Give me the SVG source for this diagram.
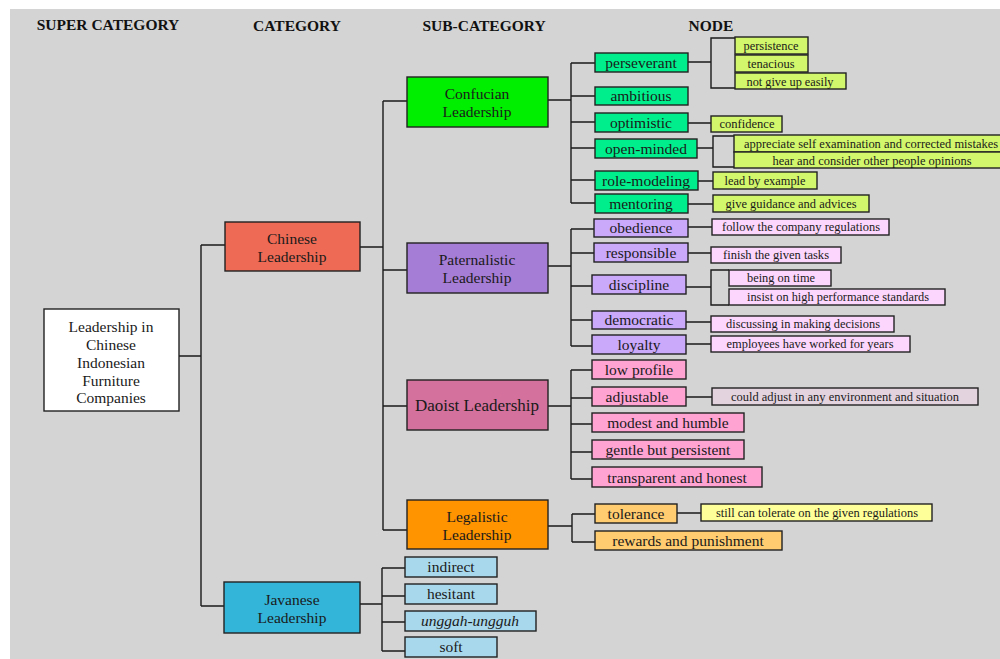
<svg xmlns="http://www.w3.org/2000/svg" width="1000" height="659" viewBox="0 0 1000 659">
<style>
text{font-family:"Liberation Serif","Times New Roman",serif;fill:#1a1a1a;text-anchor:middle}
.h{font-weight:bold;font-size:15.5px;fill:#111}
.m{font-size:15.5px}
.n{font-size:15.5px}
.l{font-size:12px}
rect{stroke:#222;stroke-width:1.4}
.con path{fill:none;stroke:#1a1a1a;stroke-width:1.4}
.cf{fill:#00ef8c}.cl{fill:#d3f76c}
.pf{fill:#caa8fa}.pl{fill:#fcd6fc}
.df{fill:#ffa3d3}.dl{fill:#e3d3df}
.lf{fill:#ffcc70}.ll{fill:#ffff99}
.jf{fill:#a8d8ec}
</style>
<rect x="10" y="9" width="990" height="650" fill="#d4d4d4" style="stroke:none"/>
<g id="headers">
<text class="h" x="108" y="30">SUPER CATEGORY</text>
<text class="h" x="297" y="31">CATEGORY</text>
<text class="h" x="484" y="31">SUB-CATEGORY</text>
<text class="h" x="711" y="31">NODE</text>
</g>
<g class="con" id="connectors">
<path d="M179 356H201M201 245V606M201 245H225M201 606H224"/>
<path d="M360 247H383M383 101V530M383 101H407M383 270H407M383 406H407M383 530H407"/>
<path d="M360 604H382M382 568V651M382 568H405M382 596H405M382 622H405M382 651H405"/>
<path d="M548 100H571M571 63V203M571 63H595M571 96H595M571 122H595M571 148H595M571 180H595M571 203H595"/>
<path d="M548 266H571M571 229V346M571 229H594M571 253H594M571 286H592M571 320H592M571 346H592"/>
<path d="M548 406H571M571 370V479M571 370H592M571 398H592M571 424H592M571 452H592M571 479H592"/>
<path d="M548 526H572M572 514V542M572 514H595M572 542H595"/>
<path d="M688 62H711M735 38H711V88H735M688 123H711M697 148H713M734 136H713V167H734M698 181H713M688 204H713"/>
<path d="M688 227H712M688 253H711M686 287H711M729 270H711V305H729M686 322H711M686 344H711"/>
<path d="M686 397H712M677 513H701"/>
</g>
<g id="root"><rect x="44" y="309" width="135" height="102" fill="#fff"/>
<text class="m" x="111" y="332">Leadership in</text><text class="m" x="111" y="350">Chinese</text><text class="m" x="111" y="368">Indonesian</text><text class="m" x="111" y="386">Furniture</text><text class="m" x="111" y="403">Companies</text></g>
<g id="chinese"><rect x="225" y="222" width="135" height="49" fill="#ee6a55"/>
<text class="m" x="292" y="244">Chinese</text><text class="m" x="292" y="262">Leadership</text></g>
<g id="javanese"><rect x="224" y="582" width="136" height="51" fill="#33b5d9"/>
<text class="m" x="292" y="605">Javanese</text><text class="m" x="292" y="623">Leadership</text></g>
<g id="confucian"><rect x="407" y="77" width="141" height="50" fill="#00ee00"/>
<text class="m" x="477" y="99">Confucian</text><text class="m" x="477" y="117">Leadership</text></g>
<g id="paternalistic"><rect x="407" y="243" width="141" height="50" fill="#a67dd6"/>
<text class="m" x="477" y="265">Paternalistic</text><text class="m" x="477" y="283">Leadership</text></g>
<g id="daoist"><rect x="407" y="380" width="141" height="50" fill="#d4719c"/>
<text x="477" y="411" style="font-size:17px">Daoist Leadership</text></g>
<g id="legalistic"><rect x="407" y="500" width="141" height="49" fill="#ff9300"/>
<text class="m" x="477" y="522">Legalistic</text><text class="m" x="477" y="540">Leadership</text></g>

<g id="perseverant"><rect class="cf" x="595" y="53" width="93" height="19"/><text class="n" x="641" y="68">perseverant</text></g>
<g id="ambitious"><rect class="cf" x="595" y="87" width="93" height="18"/><text class="n" x="641" y="101">ambitious</text></g>
<g id="optimistic"><rect class="cf" x="595" y="113" width="93" height="19"/><text class="n" x="641" y="128">optimistic</text></g>
<g id="open-minded"><rect class="cf" x="595" y="139" width="102" height="19"/><text class="n" x="646" y="154">open-minded</text></g>
<g id="role-modeling"><rect class="cf" x="595" y="171" width="103" height="19"/><text class="n" x="646" y="186">role-modeling</text></g>
<g id="mentoring"><rect class="cf" x="595" y="194" width="93" height="19"/><text class="n" x="641" y="209">mentoring</text></g>

<g id="persistence"><rect class="cl" x="735" y="37" width="73" height="17"/><text class="l" x="771" y="50" textLength="55" lengthAdjust="spacingAndGlyphs">persistence</text></g>
<g id="tenacious"><rect class="cl" x="735" y="55" width="73" height="17"/><text class="l" x="771" y="68" textLength="47" lengthAdjust="spacingAndGlyphs">tenacious</text></g>
<g id="not-give-up"><rect class="cl" x="735" y="73" width="111" height="16"/><text class="l" x="790" y="86" textLength="87" lengthAdjust="spacingAndGlyphs">not give up easily</text></g>
<g id="confidence"><rect class="cl" x="711" y="116" width="71" height="16"/><text class="l" x="747" y="128" textLength="55" lengthAdjust="spacingAndGlyphs">confidence</text></g>
<g id="appreciate"><rect class="cl" x="734" y="135" width="270" height="17"/><text class="l" x="871" y="148" textLength="254" lengthAdjust="spacingAndGlyphs">appreciate self examination and corrected mistakes</text></g>
<g id="hear"><rect class="cl" x="734" y="152" width="270" height="16"/><text class="l" x="872" y="165" textLength="199" lengthAdjust="spacingAndGlyphs">hear and consider other people opinions</text></g>
<g id="lead"><rect class="cl" x="713" y="172" width="104" height="17"/><text class="l" x="765" y="185" textLength="81" lengthAdjust="spacingAndGlyphs">lead by example</text></g>
<g id="give"><rect class="cl" x="713" y="195" width="156" height="17"/><text class="l" x="791" y="208" textLength="131" lengthAdjust="spacingAndGlyphs">give guidance and advices</text></g>

<g id="obedience"><rect class="pf" x="594" y="219" width="94" height="18"/><text class="n" x="641" y="233">obedience</text></g>
<g id="responsible"><rect class="pf" x="594" y="243" width="94" height="19"/><text class="n" x="641" y="258">responsible</text></g>
<g id="discipline"><rect class="pf" x="592" y="275" width="94" height="19"/><text class="n" x="639" y="290">discipline</text></g>
<g id="democratic"><rect class="pf" x="592" y="311" width="94" height="18"/><text class="n" x="639" y="325">democratic</text></g>
<g id="loyalty"><rect class="pf" x="592" y="335" width="94" height="19"/><text class="n" x="639" y="350">loyalty</text></g>

<g id="follow"><rect class="pl" x="712" y="219" width="177" height="16"/><text class="l" x="801" y="231" textLength="158" lengthAdjust="spacingAndGlyphs">follow the company regulations</text></g>
<g id="finish"><rect class="pl" x="711" y="247" width="130" height="16"/><text class="l" x="776" y="259" textLength="106" lengthAdjust="spacingAndGlyphs">finish the given tasks</text></g>
<g id="being"><rect class="pl" x="729" y="270" width="102" height="16"/><text class="l" x="781" y="282" textLength="68" lengthAdjust="spacingAndGlyphs">being on time</text></g>
<g id="insist"><rect class="pl" x="729" y="289" width="216" height="16"/><text class="l" x="838" y="301" textLength="182" lengthAdjust="spacingAndGlyphs">insist on high performance standards</text></g>
<g id="discussing"><rect class="pl" x="711" y="316" width="183" height="16"/><text class="l" x="803" y="328" textLength="154" lengthAdjust="spacingAndGlyphs">discussing in making decisions</text></g>
<g id="employees"><rect class="pl" x="711" y="336" width="199" height="16"/><text class="l" x="810" y="348" textLength="167" lengthAdjust="spacingAndGlyphs">employees have worked for years</text></g>

<g id="low-profile"><rect class="df" x="592" y="360" width="94" height="19"/><text class="n" x="639" y="375">low profile</text></g>
<g id="adjustable"><rect class="df" x="592" y="387" width="94" height="19"/><text class="n" x="637" y="402">adjustable</text></g>
<g id="modest"><rect class="df" x="592" y="413" width="152" height="19"/><text class="n" x="668" y="428">modest and humble</text></g>
<g id="gentle"><rect class="df" x="592" y="440" width="152" height="19"/><text class="n" x="668" y="455">gentle but persistent</text></g>
<g id="transparent"><rect class="df" x="592" y="467" width="170" height="20"/><text class="n" x="677" y="483">transparent and honest</text></g>
<g id="could"><rect class="dl" x="712" y="388" width="266" height="17"/><text class="l" x="845" y="401" textLength="228" lengthAdjust="spacingAndGlyphs">could adjust in any environment and situation</text></g>

<g id="tolerance"><rect class="lf" x="595" y="504" width="82" height="19"/><text class="n" x="636" y="519">tolerance</text></g>
<g id="rewards"><rect class="lf" x="595" y="531" width="187" height="19"/><text class="n" x="688" y="546">rewards and punishment</text></g>
<g id="still"><rect class="ll" x="701" y="504" width="231" height="17"/><text class="l" x="817" y="517" textLength="202" lengthAdjust="spacingAndGlyphs">still can tolerate on the given regulations</text></g>

<g id="indirect"><rect class="jf" x="405" y="557" width="92" height="20"/><text class="n" x="451" y="572">indirect</text></g>
<g id="hesitant"><rect class="jf" x="405" y="584" width="92" height="20"/><text class="n" x="451" y="599">hesitant</text></g>
<g id="unggah"><rect class="jf" x="405" y="611" width="131" height="20"/><text class="n" x="470" y="626" style="font-style:italic">unggah-ungguh</text></g>
<g id="soft"><rect class="jf" x="405" y="637" width="92" height="20"/><text class="n" x="451" y="652">soft</text></g>
</svg>
